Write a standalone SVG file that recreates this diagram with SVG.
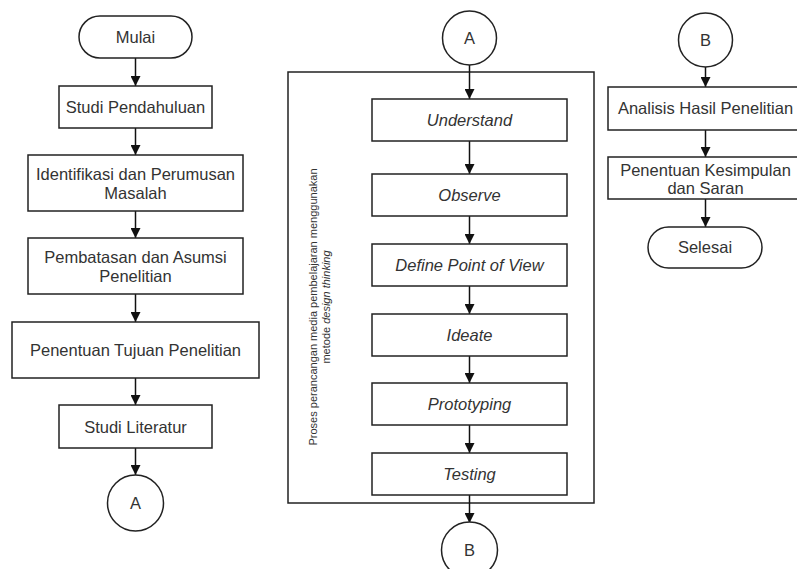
<svg xmlns="http://www.w3.org/2000/svg" width="797" height="569" viewBox="0 0 797 569">
<defs>
<marker id="arr" viewBox="0 0 10 10" refX="10" refY="5" markerWidth="10" markerHeight="10" markerUnits="userSpaceOnUse" orient="auto">
<path d="M0,0 L10,5 L0,10 z" fill="#111"/>
</marker>
<style>
.b{fill:#fff;stroke:#222;stroke-width:1.5}
.t{font-family:"Liberation Sans",Arial,sans-serif;font-size:16.5px;fill:#333;text-anchor:middle}
.i{font-style:italic}
.c{fill:none;stroke:#111;stroke-width:1.5;marker-end:url(#arr)}
.s{font-family:"Liberation Sans",Arial,sans-serif;font-size:11px;fill:#333;text-anchor:middle}
</style>
</defs>
<rect width="797" height="569" fill="#fff"/>
<g id="container"><rect x="288" y="72" width="306" height="431" class="b" fill="none"/>
<text class="s" transform="translate(317,307) rotate(-90)"><tspan x="0" y="0">Proses perancangan media pembelajaran menggunakan</tspan><tspan x="0" y="12.5">metode <tspan font-style="italic">design thinking</tspan></tspan></text></g>
<g id="connectors">
<line x1="135.5" y1="58" x2="135.5" y2="86" class="c"/>
<line x1="135.5" y1="128" x2="135.5" y2="155" class="c"/>
<line x1="135.5" y1="211" x2="135.5" y2="238" class="c"/>
<line x1="135.5" y1="294" x2="135.5" y2="322" class="c"/>
<line x1="135.5" y1="378" x2="135.5" y2="405" class="c"/>
<line x1="135.5" y1="448" x2="135.5" y2="475" class="c"/>
<line x1="469.5" y1="65" x2="469.5" y2="99" class="c"/>
<line x1="469.5" y1="141" x2="469.5" y2="174" class="c"/>
<line x1="469.5" y1="216" x2="469.5" y2="244" class="c"/>
<line x1="469.5" y1="286" x2="469.5" y2="314" class="c"/>
<line x1="469.5" y1="356" x2="469.5" y2="383" class="c"/>
<line x1="469.5" y1="425" x2="469.5" y2="453" class="c"/>
<line x1="469.5" y1="495" x2="469.5" y2="523" class="c"/>
<line x1="705.5" y1="67" x2="705.5" y2="87" class="c"/>
<line x1="705.5" y1="130" x2="705.5" y2="157" class="c"/>
<line x1="705.5" y1="199" x2="705.5" y2="227" class="c"/>
</g>
<g id="mulai"><rect x="79" y="16" width="113" height="42" rx="21" class="b"/><text class="t" x="135.5" y="43">Mulai</text></g>
<g id="studi-pendahuluan"><rect x="59" y="86" width="153" height="42" class="b"/><text class="t" x="135.5" y="113">Studi Pendahuluan</text></g>
<g id="identifikasi"><rect x="28" y="155" width="215" height="56" class="b"/><text class="t" x="135.5" y="180">Identifikasi dan Perumusan</text><text class="t" x="135.5" y="199">Masalah</text></g>
<g id="pembatasan"><rect x="28" y="238" width="215" height="56" class="b"/><text class="t" x="135.5" y="263">Pembatasan dan Asumsi</text><text class="t" x="135.5" y="282">Penelitian</text></g>
<g id="tujuan"><rect x="12" y="322" width="247" height="56" class="b"/><text class="t" x="135.5" y="356">Penentuan Tujuan Penelitian</text></g>
<g id="studi-literatur"><rect x="59" y="405" width="153" height="43" class="b"/><text class="t" x="135.5" y="433">Studi Literatur</text></g>
<g id="conn-a1"><circle cx="135.5" cy="503" r="28" class="b"/><text class="t" x="135.5" y="509">A</text></g>
<g id="conn-a2"><circle cx="469.5" cy="38" r="27" class="b"/><text class="t" x="469.5" y="44">A</text></g>
<g id="understand"><rect x="372" y="99" width="195" height="42" class="b"/><text class="t i" x="469.5" y="126">Understand</text></g>
<g id="observe"><rect x="372" y="174" width="195" height="42" class="b"/><text class="t i" x="469.5" y="201">Observe</text></g>
<g id="define"><rect x="372" y="244" width="195" height="42" class="b"/><text class="t i" x="469.5" y="271">Define Point of View</text></g>
<g id="ideate"><rect x="372" y="314" width="195" height="42" class="b"/><text class="t i" x="469.5" y="341">Ideate</text></g>
<g id="prototyping"><rect x="372" y="383" width="195" height="42" class="b"/><text class="t i" x="469.5" y="410">Prototyping</text></g>
<g id="testing"><rect x="372" y="453" width="195" height="42" class="b"/><text class="t i" x="469.5" y="480">Testing</text></g>
<g id="conn-b1"><circle cx="469.5" cy="550" r="28" class="b"/><text class="t" x="469.5" y="556">B</text></g>
<g id="conn-b2"><circle cx="705.5" cy="40" r="27" class="b"/><text class="t" x="705.5" y="46">B</text></g>
<g id="analisis"><rect x="608" y="87" width="196" height="43" class="b"/><text class="t" x="705.5" y="114">Analisis Hasil Penelitian</text></g>
<g id="kesimpulan"><rect x="608" y="157" width="196" height="42" class="b"/><text class="t" x="705.5" y="176">Penentuan Kesimpulan</text><text class="t" x="705.5" y="194">dan Saran</text></g>
<g id="selesai"><rect x="648" y="227" width="114" height="41" rx="20.5" class="b"/><text class="t" x="705" y="253">Selesai</text></g>
</svg>
